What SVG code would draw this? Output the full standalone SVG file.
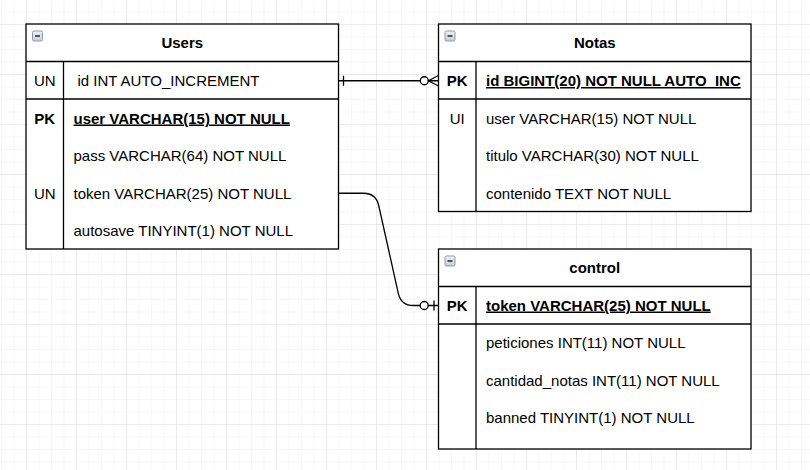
<svg xmlns="http://www.w3.org/2000/svg" width="810" height="470" viewBox="0 0 810 470">
<style>
.tbl{fill:#fff;stroke:#000;stroke-width:1.3}
.ln{stroke:#000;stroke-width:1.3;fill:none}
text{font-family:"Liberation Sans",Arial,sans-serif;font-size:15px;fill:#000}
.h{font-weight:bold;text-anchor:middle}
.k{text-anchor:middle}
.kb{text-anchor:middle;font-weight:bold}
.pk{font-weight:bold;text-decoration:underline}
.edge{stroke:#000;stroke-width:1.3;fill:none}
</style>
<defs>
<pattern id="minor" patternUnits="userSpaceOnUse" x="26" y="24" width="12.5" height="12.5">
<path d="M0 0H12.5M0 0V12.5" stroke="#f0f0f0" stroke-width="1" fill="none"/>
</pattern>
<pattern id="major" patternUnits="userSpaceOnUse" x="26" y="24" width="50" height="50">
<path d="M0 0H50M0 0V50" stroke="#dedede" stroke-width="1" fill="none"/>
</pattern>
<linearGradient id="ig" x1="0" y1="0" x2="0" y2="1">
<stop offset="0" stop-color="#eef2f7"/>
<stop offset="1" stop-color="#c5ced9"/>
</linearGradient>
<g id="icon">
<rect x="0" y="0" width="10" height="10" rx="1.5" fill="url(#ig)" stroke="#8f9bab" stroke-width="1"/>
<path d="M2.5 5H7.5" stroke="#333" stroke-width="1.6"/>
</g>
</defs>
<rect width="810" height="470" fill="#fff"/>
<rect width="810" height="470" fill="url(#minor)"/>
<rect width="810" height="470" fill="url(#major)"/>

<g id="connectors">
<g id="users-notas">
<path class="edge" d="M338.5 80.75H438.5"/>
<path class="edge" d="M343.5 75.75V85.75"/>
<circle cx="424.3" cy="80.75" r="4" fill="#fff" stroke="#000" stroke-width="1.3"/>
<path class="edge" d="M438.5 75.5L428.5 80.75L438.5 86"/>
</g>
<g id="users-control">
<path class="edge" d="M338.5 193.25H363.5Q376 193.25 378.7 205.5L398.3 293.3Q401 305.5 413.5 305.5H438.5"/>
<circle cx="424.2" cy="305.5" r="4" fill="#fff" stroke="#000" stroke-width="1.3"/>
<path class="edge" d="M434 300.5V310.5"/>
</g>
</g>

<g id="users">
<rect class="tbl" x="26" y="24" width="312.5" height="225"/>
<use href="#icon" x="32.5" y="31"/>
<text class="h" x="182.25" y="48">Users</text>
<path class="ln" d="M26 61.5H338.5M26 99H338.5M63.5 61.5V249"/>
<text class="k" x="44.75" y="86">UN</text>
<text x="77.5" y="86">id INT AUTO_INCREMENT</text>
<text class="kb" x="44.75" y="123.5">PK</text>
<text class="pk" x="73.5" y="123.5">user VARCHAR(15) NOT NULL</text>
<text x="73.5" y="161">pass VARCHAR(64) NOT NULL</text>
<text class="k" x="44.75" y="198.5">UN</text>
<text x="73.5" y="198.5">token VARCHAR(25) NOT NULL</text>
<text x="73.5" y="236">autosave TINYINT(1) NOT NULL</text>
</g>

<g id="notas">
<rect class="tbl" x="438.5" y="24" width="312.5" height="187.5"/>
<use href="#icon" x="445" y="31"/>
<text class="h" x="594.75" y="48">Notas</text>
<path class="ln" d="M438.5 61.5H751M438.5 99H751M476 61.5V211.5"/>
<text class="kb" x="457.25" y="86">PK</text>
<text class="pk" x="486" y="86">id BIGINT(20) NOT NULL AUTO_INC</text>
<text class="k" x="457.25" y="123.5">UI</text>
<text x="486" y="123.5">user VARCHAR(15) NOT NULL</text>
<text x="486" y="161">titulo VARCHAR(30) NOT NULL</text>
<text x="486" y="198.5">contenido TEXT NOT NULL</text>
</g>

<g id="control">
<rect class="tbl" x="438.5" y="249" width="312.5" height="200"/>
<use href="#icon" x="445" y="256"/>
<text class="h" x="594.75" y="273">control</text>
<path class="ln" d="M438.5 286.5H751M438.5 324H751M476 286.5V449"/>
<text class="kb" x="457.25" y="310.5">PK</text>
<text class="pk" x="486" y="310.5">token VARCHAR(25) NOT NULL</text>
<text x="486" y="348">peticiones INT(11) NOT NULL</text>
<text x="486" y="385.5">cantidad_notas INT(11) NOT NULL</text>
<text x="486" y="423">banned TINYINT(1) NOT NULL</text>
</g>
</svg>
